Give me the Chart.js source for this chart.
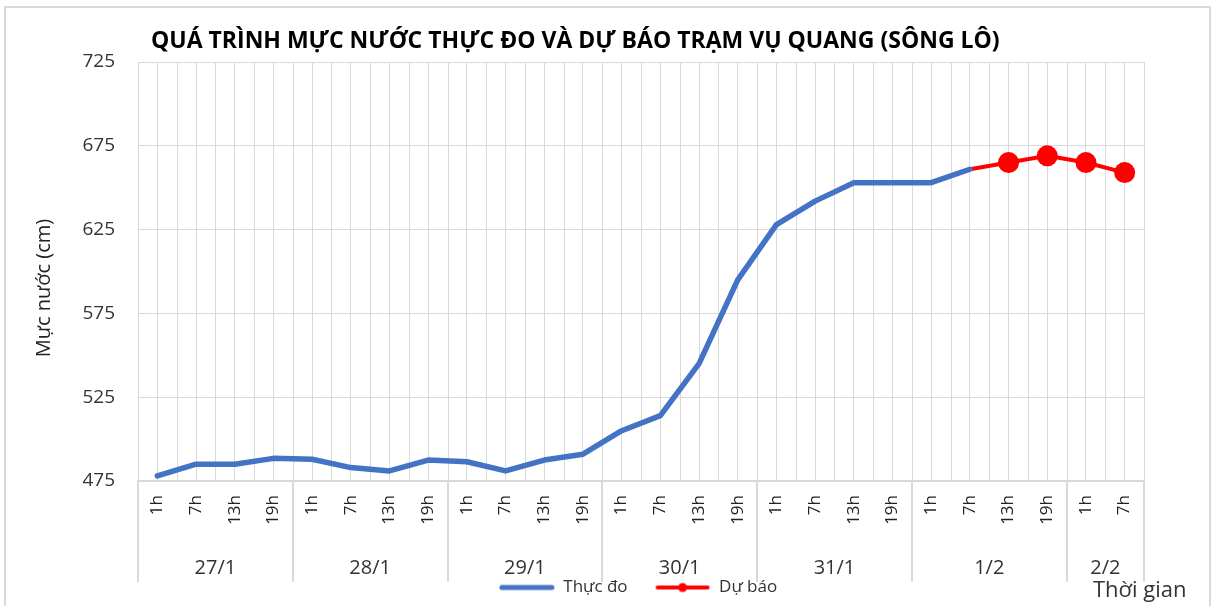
<!DOCTYPE html>
<html>
<head>
<meta charset="utf-8">
<script src="https://cdn.jsdelivr.net/npm/chart.js@4.4.1/dist/chart.umd.min.js"></script>
<style>
  html, body { margin: 0; padding: 0; background: #fff; }
  #frame { position: absolute; left: 4px; top: 6px; width: 1207px; height: 640px; border: 2px solid #d9d9d9; box-sizing: border-box; }
  #wrap { position: absolute; left: 0; top: 0; width: 1215px; height: 606px; }
</style>
</head>
<body>
<div id="frame"></div>
<div id="wrap"><canvas id="chart" width="1215" height="606"></canvas></div>
<script>
// du lieu doc tu hinh
const days = ['27/1', '28/1', '29/1', '30/1', '31/1', '1/2', '2/2'];
const daySpans = [4, 4, 4, 4, 4, 4, 2];
const hours = [
  '1h', '7h', '13h', '19h', '1h', '7h', '13h', '19h', '1h', '7h', '13h', '19h',
  '1h', '7h', '13h', '19h', '1h', '7h', '13h', '19h', '1h', '7h', '13h', '19h',
  '1h', '7h'
];
const measured = [
  478, 485, 485, 488.5, 488, 483, 481, 487.5, 486.5, 481, 487.5, 491,
  505, 514, 545, 595, 628, 642, 653, 653, 653, 661, null, null, null, null
];
const forecast = [
  null, null, null, null, null, null, null, null, null, null, null, null,
  null, null, null, null, null, null, null, null, null, 661, 665, 669, 665, 659
];
const yTicks = [475, 525, 575, 625, 675, 725];

const FONT = "'Open Sans', 'Noto Sans', sans-serif";
const GRID = '#d9d9d9';
const BLUE = '#4472c4';
const RED = '#ff0000';

// diem dau cua du bao khong co marker
const firstForecast = forecast.findIndex(v => v !== null);
const forecastRadius = forecast.map((v, i) => (i === firstForecast ? 0 : 10.5));

function swatch(color, width, dot) {
  const c = document.createElement('canvas');
  c.width = 56;
  c.height = 12;
  const g = c.getContext('2d');
  g.strokeStyle = color;
  g.lineWidth = width;
  g.lineCap = 'round';
  g.beginPath();
  g.moveTo(3, 6);
  g.lineTo(53, 6);
  g.stroke();
  if (dot) {
    g.fillStyle = color;
    g.beginPath();
    g.arc(28, 6, 4.5, 0, Math.PI * 2);
    g.fill();
  }
  return c;
}
const swatches = [swatch(BLUE, 5, false), swatch(RED, 4, true)];

// luoi doc o ranh gioi, vach ngay, nhan ngay, tieu de
const extras = {
  id: 'extras',
  afterLayout(chart) {
    // chu giai canh giua vung ve, khong phai ca canvas
    if (chart.legend) chart.legend.left = 132;
  },
  beforeDatasetsDraw(chart) {
    const { ctx, chartArea, scales: { x } } = chart;
    const half = (x.getPixelForValue(1) - x.getPixelForValue(0)) / 2;
    ctx.save();
    ctx.strokeStyle = GRID;
    ctx.lineWidth = 1;
    for (let i = 0; i <= hours.length; i++) {
      const px = Math.round(i < hours.length ? x.getPixelForValue(i) - half : x.getPixelForValue(i - 1) + half) + 0.5;
      ctx.beginPath();
      ctx.moveTo(px, chartArea.top);
      ctx.lineTo(px, chartArea.bottom);
      ctx.stroke();
    }
    ctx.restore();
  },
  afterDraw(chart) {
    const { ctx, chartArea, scales: { x } } = chart;
    const half = (x.getPixelForValue(1) - x.getPixelForValue(0)) / 2;
    ctx.save();
    ctx.strokeStyle = GRID;
    ctx.lineWidth = 2;
    let start = 0;
    const edges = [0];
    daySpans.forEach(n => { start += n; edges.push(start); });
    const edgePx = edges.map(k => (k < hours.length ? x.getPixelForValue(k) - half : x.getPixelForValue(k - 1) + half));
    edgePx.forEach(px => {
      ctx.beginPath();
      ctx.moveTo(Math.round(px), chartArea.bottom);
      ctx.lineTo(Math.round(px), chartArea.bottom + 101);
      ctx.stroke();
    });
    ctx.fillStyle = '#333';
    ctx.font = '20px ' + FONT;
    ctx.textAlign = 'center';
    ctx.textBaseline = 'middle';
    days.forEach((d, i) => {
      ctx.fillText(d, (edgePx[i] + edgePx[i + 1]) / 2, chartArea.bottom + 87);
    });

    ctx.textAlign = 'left';
    ctx.font = '22px ' + FONT;
    ctx.fillText('Thời gian', 1093, 591);

    ctx.fillStyle = '#000';
    ctx.font = 'bold 23px ' + FONT;
    ctx.fillText('QUÁ TRÌNH MỰC NƯỚC THỰC ĐO VÀ DỰ BÁO TRẠM VỤ QUANG (SÔNG LÔ)', 151, 41);

    ctx.fillStyle = '#222';
    ctx.font = '20px ' + FONT;
    ctx.translate(44, 288);
    ctx.rotate(-Math.PI / 2);
    ctx.textAlign = 'center';
    ctx.fillText('Mực nước (cm)', 0, 0);
    ctx.restore();
  }
};

new Chart(document.getElementById('chart'), {
  type: 'line',
  data: {
    labels: hours,
    datasets: [
      {
        label: 'Thực đo',
        data: measured,
        borderColor: BLUE,
        backgroundColor: BLUE,
        borderWidth: 5.5,
        borderCapStyle: 'round',
        borderJoinStyle: 'round',
        pointRadius: 0,
        tension: 0
      },
      {
        label: 'Dự báo',
        data: forecast,
        borderColor: RED,
        backgroundColor: RED,
        borderWidth: 4,
        pointRadius: forecastRadius,
        pointBackgroundColor: RED,
        pointBorderWidth: 0,
        tension: 0
      }
    ]
  },
  options: {
    responsive: false,
    animation: false,
    events: [],
    layout: { padding: { left: 0, right: 71, top: 62, bottom: 0 } },
    plugins: {
      legend: {
        position: 'bottom',
        labels: {
          usePointStyle: true,
          pointStyleWidth: 56,
          padding: 27,
          color: '#333',
          font: { family: FONT, size: 17 },
          generateLabels(chart) {
            const items = Chart.defaults.plugins.legend.labels.generateLabels(chart);
            return items.map((it, i) => Object.assign(it, { pointStyle: swatches[i] }));
          }
        }
      },
      tooltip: { enabled: false }
    },
    scales: {
      x: {
        offset: true,
        grid: { color: GRID, drawTicks: false, offset: false },
        border: { color: GRID, width: 2 },
        ticks: {
          autoSkip: false,
          maxRotation: 90,
          minRotation: 90,
          padding: 14,
          color: '#222',
          font: { family: FONT, size: 17 }
        },
        afterFit(s) {
          s.height = 125 - (s.chart.legend ? s.chart.legend.height : 0);
        }
      },
      y: {
        min: yTicks[0],
        max: yTicks[yTicks.length - 1],
        grid: { color: GRID, drawTicks: false },
        border: { display: false },
        ticks: {
          stepSize: yTicks[1] - yTicks[0],
          padding: 23,
          color: '#333',
          font: { family: FONT, size: 19 }
        },
        afterFit(s) {
          s.width = 138;
        }
      }
    }
  },
  plugins: [extras]
});
</script>
</body>
</html>
